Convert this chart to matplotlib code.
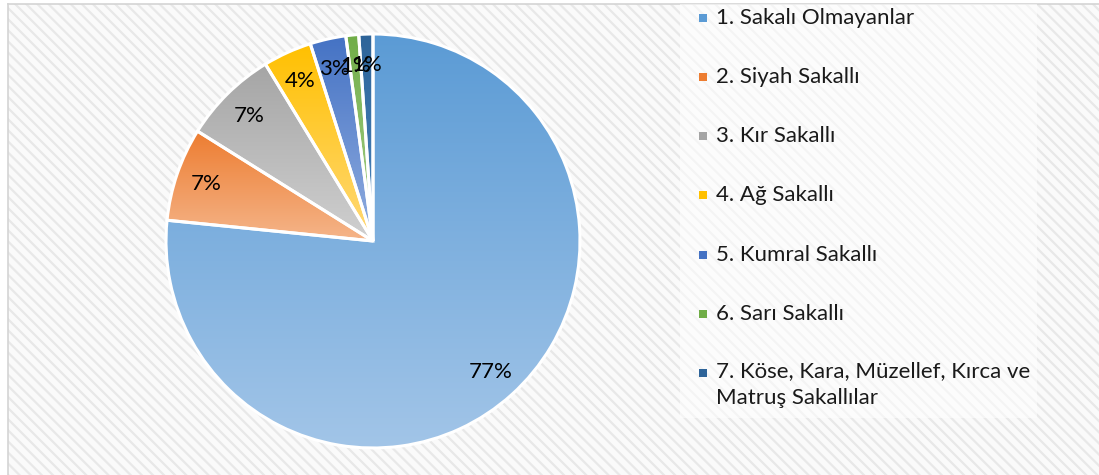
import numpy as np
import matplotlib
matplotlib.use("Agg")
import matplotlib.pyplot as plt
from matplotlib.patches import Rectangle
from matplotlib.colors import to_rgb

labels = ["1. Sakalı Olmayanlar", "2. Siyah Sakallı", "3. Kır Sakallı", "4. Ağ Sakallı",
          "5. Kumral Sakallı", "6. Sarı Sakallı",
          "7. Köse, Kara, Müzellef, Kırca ve\nMatruş Sakallılar"]
values = [76.6, 7.3, 7.4, 3.8, 2.8, 1.0, 1.1]
top_colors = ["#5B9BD5", "#ED7D31", "#A5A5A5", "#FFC000", "#4472C4", "#70AD47", "#2E6499"]
bottom_colors = ["#A2C5E8", "#F5B58A", "#D0D0D0", "#FFD978", "#92AEE0", "#A9D18E", "#4A86BF"]

plt.rcParams['font.family'] = ['Lato', 'DejaVu Sans']
plt.rcParams['hatch.linewidth'] = 1.6

W, H = 1099, 475
fig = plt.figure(figsize=(W / 100, H / 100), dpi=100)
fig.patch.set_facecolor("white")

# hatched chart area
bg = Rectangle((8 / W, 0), 1, 1 - 4 / H, transform=fig.transFigure,
               facecolor="#fafafa", edgecolor="#e8e8e8", hatch="\\\\\\", linewidth=0,
               zorder=-10)
fig.patches.append(bg)
fig.add_artist(plt.Line2D([8 / W, 8 / W], [0, 1 - 4 / H], color="#d4d4d4", lw=1.2,
                          transform=fig.transFigure, zorder=-9))
fig.add_artist(plt.Line2D([8 / W, 1], [1 - 4 / H, 1 - 4 / H], color="#d4d4d4", lw=1.2,
                          transform=fig.transFigure, zorder=-9))

# legend background
fig.patches.append(Rectangle((680 / W, 57 / H), 357 / W, 414 / H, transform=fig.transFigure,
                             facecolor="white", alpha=0.55, linewidth=0, zorder=-8))

# pie
cx, cy, r = 373, H - 241, 207
half = 230
ax = fig.add_axes([(cx - half) / W, (cy - half) / H, 2 * half / W, 2 * half / H])
ax.patch.set_visible(False)
lim = half / r

wedges, texts, autotexts = ax.pie(values, startangle=90, counterclock=False, radius=1,
                                  autopct="%.0f%%", pctdistance=0.85,
                                  wedgeprops=dict(edgecolor="white", linewidth=2.2),
                                  textprops=dict(fontsize=16, color="black"),
                                  frame=True)
ax.set_xlim(-lim, lim)
ax.set_ylim(-lim, lim)
ax.axis("off")

for w, c0, c1 in zip(wedges, top_colors, bottom_colors):
    w.set_facecolor("none")
    w.set_zorder(2)
    ext = w.get_path().get_extents()
    a = np.array(to_rgb(c0))
    b = np.array(to_rgb(c1))
    t = np.linspace(0, 1, 256)[:, None]
    grad = (a[None, :] * (1 - t) + b[None, :] * t)[:, None, :]
    im = ax.imshow(grad, extent=(ext.x0, ext.x1, ext.y0, ext.y1), origin="upper",
                   aspect="auto", zorder=1, interpolation="bilinear")
    im.set_clip_path(w)
for t in autotexts:
    t.set_zorder(5)
ax.set_xlim(-lim, lim)
ax.set_ylim(-lim, lim)

# legend
ys = [18, 77, 136, 195, 255, 314, 373]
for lab, c0, y in zip(labels, top_colors, ys):
    fig.patches.append(Rectangle((699 / W, (H - y - 4) / H), 8 / W, 8 / H,
                                 transform=fig.transFigure, facecolor=c0, linewidth=0))
    if "\n" in lab:
        fig.text(716 / W, (H - y + 12) / H, lab, fontsize=16, color="#1a1a1a",
                 va="top", ha="left", linespacing=1.45)
    else:
        fig.text(716 / W, (H - y) / H, lab, fontsize=16, color="#1a1a1a",
                 va="center", ha="left")

fig.savefig("out.png", dpi=100)
